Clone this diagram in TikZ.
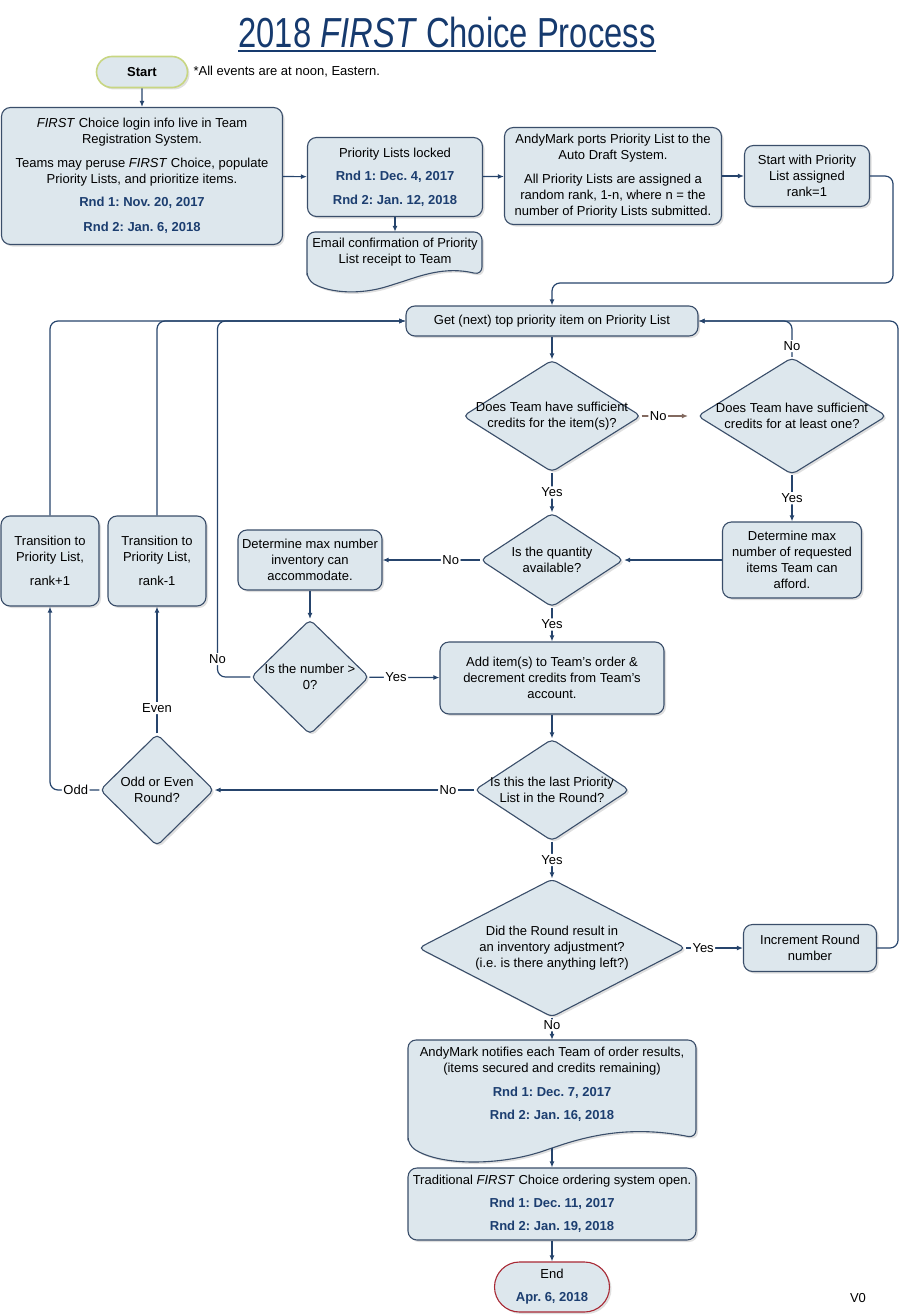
\documentclass[tikz,border=0pt]{standalone}
\usepackage{fontspec}
\setmainfont{Liberation Sans}
\usepackage{xcolor}
\usepackage{graphicx}
\usepackage{tikz}
\usetikzlibrary{shapes.geometric,shapes.misc,arrows.meta,shadows}

\definecolor{boxfill}{RGB}{221,231,237}
\definecolor{boxline}{RGB}{58,78,106}
\definecolor{flowline}{RGB}{38,68,108}
\definecolor{dateblue}{RGB}{28,62,112}
\definecolor{titleblue}{RGB}{22,58,110}
\definecolor{startline}{RGB}{200,214,130}
\definecolor{endline}{RGB}{168,40,52}
\definecolor{noline}{RGB}{130,105,95}

\newcommand{\rnd}[1]{\textcolor{dateblue}{\bfseries #1}}
\newcommand{\first}{\textit{FIRST}}
\frenchspacing

\begin{document}
\begin{tikzpicture}[x=1pt, y=-1pt,
    font=\fontsize{13}{16}\selectfont,
    shade/.style={drop shadow={shadow xshift=2pt, shadow yshift=-2pt, opacity=0.25}},
    box/.style={draw=boxline, fill=boxfill, line width=1.1pt, rounded corners=9pt, align=center, inner sep=2pt, shade},
    docshape/.style={draw=boxline, fill=boxfill, line width=1.1pt, rounded corners=8pt, shade},
    terminal/.style={rounded rectangle, fill=boxfill, line width=1.1pt, align=center, inner sep=2pt, shade},
    decision/.style={diamond, draw=boxline, fill=boxfill, line width=1.1pt, rounded corners=5pt, inner sep=0pt, shade},
    dectext/.style={align=center},
    flow/.style={draw=flowline, line width=1.2pt, rounded corners=8pt, -{Latex[length=6pt,width=5pt]}},
    lbl/.style={fill=white, inner sep=1.5pt}]

    \useasboundingbox (0,0) rectangle (901,1316);

    % title
    \node[font=\fontsize{42}{42}\selectfont, text=titleblue, inner sep=0pt, anchor=base] (title) at (447,48)
        {\scalebox{0.78}[1]{2018 \textit{FIRST} Choice Process}};
    \draw[titleblue, line width=2.5pt] ([yshift=-3pt]title.base west) -- ([yshift=-3pt]title.base east);

    % top row
    \node[terminal, draw=startline, line width=1.6pt, minimum width=95pt, minimum height=31pt] (start) at (142,72) {\bfseries Start};
    \node[anchor=west] (note) at (190,72) {*All events are at noon, Eastern.};
    \node[box, minimum width=281pt, minimum height=137pt] (login) at (142,176)
        {\first{} Choice login info live in Team\\Registration System.\\[8pt]Teams may peruse \first{} Choice, populate\\Priority Lists, and prioritize items.\\[7pt]\rnd{Rnd 1: Nov. 20, 2017}\\[9pt]\rnd{Rnd 2: Jan. 6, 2018}};
    \node[box, minimum width=175pt, minimum height=79pt] (locked) at (395,177)
        {Priority Lists locked\\[7pt]\rnd{Rnd 1: Dec. 4, 2017}\\[8pt]\rnd{Rnd 2: Jan. 12, 2018}};
    \path[docshape] (307,280) -- (307,232) -- (482,232) -- (482,275) .. controls (445,266) and (420,276) .. (395,284) .. controls (360,295) and (330,293) .. (307,280) -- cycle;
    \node[align=center, minimum width=175pt, minimum height=40pt, inner sep=0pt] (email) at (395,252)
        {Email confirmation of Priority\\List receipt to Team};
    \node[box, minimum width=217pt, minimum height=97pt] (ports) at (613,176)
        {AndyMark ports Priority List to the\\Auto Draft System.\\[8pt]All Priority Lists are assigned a\\random rank, 1-n, where n = the\\number of Priority Lists submitted.};
    \node[box, minimum width=125pt, minimum height=61pt] (rank1) at (807,176)
        {Start with Priority\\List assigned\\rank=1};

    % main loop
    \node[box, minimum width=292pt, minimum height=30pt] (get) at (552,321)
        {Get (next) top priority item on Priority List};
    \node[decision, minimum width=178pt, minimum height=112pt,
        label={[dectext]center:Does Team have sufficient\\credits for the item(s)?}] (d1) at (552,416) {};
    \node[decision, minimum width=189pt, minimum height=117pt,
        label={[dectext]center:Does Team have sufficient\\credits for at least one?}] (d2) at (792,416) {};
    \node[decision, minimum width=143pt, minimum height=94pt,
        label={[dectext]center:Is the quantity\\available?}] (d3) at (552,560) {};
    \node[box, minimum width=139pt, minimum height=76pt] (afford) at (792,560)
        {Determine max\\number of requested\\items Team can\\afford.};
    \node[box, minimum width=144pt, minimum height=60pt] (inv) at (310,560)
        {Determine max number\\inventory can\\accommodate.};
    \node[decision, minimum width=118pt, minimum height=115pt,
        label={[dectext]center:Is the number >\\0?}] (d4) at (310,677) {};
    \node[box, minimum width=224pt, minimum height=72pt] (add) at (552,678)
        {Add item(s) to Team’s order \&\\decrement credits from Team’s\\account.};
    \node[box, minimum width=98pt, minimum height=90pt] (fwd1) at (50,561)
        {Transition to\\Priority List,\\[8pt]rank+1};
    \node[box, minimum width=98pt, minimum height=90pt] (back1) at (157,561)
        {Transition to\\Priority List,\\[8pt]rank-1};
    \node[decision, minimum width=155pt, minimum height=102pt,
        label={[dectext]center:Is this the last Priority\\List in the Round?}] (d5) at (552,790) {};
    \node[decision, minimum width=114pt, minimum height=112pt,
        label={[dectext]center:Odd or Even\\Round?}] (d6) at (157,790) {};
    \node[decision, minimum width=267pt, minimum height=138pt,
        label={[dectext]center:Did the Round result in\\an inventory adjustment?\\(i.e. is there anything left?)}] (d7) at (552,948) {};
    \node[box, minimum width=133pt, minimum height=47pt] (incr) at (810,948)
        {Increment Round\\number};

    % bottom
    \path[docshape] (408,1145) -- (408,1040) -- (696,1040) -- (696,1138) .. controls (640,1127) and (600,1132) .. (552,1148) .. controls (500,1166) and (440,1166) .. (408,1145) -- cycle;
    \node[align=center, minimum width=288pt, minimum height=88pt, inner sep=0pt] (notify) at (552,1084)
        {AndyMark notifies each Team of order results,\\(items secured and credits remaining)\\[8pt]\rnd{Rnd 1: Dec. 7, 2017}\\[7pt]\rnd{Rnd 2: Jan. 16, 2018}};
    \coordinate (notifytail) at (552,1148);
    \node[box, minimum width=288pt, minimum height=72pt] (trad) at (552,1204)
        {Traditional \first{} Choice ordering system open.\\[7pt]\rnd{Rnd 1: Dec. 11, 2017}\\[7pt]\rnd{Rnd 2: Jan. 19, 2018}};
    \node[terminal, draw=endline, minimum width=119pt, minimum height=50pt] (end) at (552,1287)
        {End\\[7pt]\rnd{Apr. 6, 2018}};
    \node (ver) at (858,1298) {V0};

    % connectors
    \draw[flow] (start) -- (login);
    \draw[flow] (login) -- (locked);
    \draw[flow] (locked) -- (email);
    \draw[flow] (locked) -- (ports);
    \draw[flow] (ports) -- (rank1);
    \draw[flow] (rank1.east) -- ++(23,0) -- ++(0,107) -| (get.north);
    \draw[flow] (get) -- (d1);
    \draw[flow, draw=noline, shorten >=9pt] (d1) -- node[lbl, pos=0.3] {No} (d2);
    \draw[flow] (d2.north) |- node[lbl, pos=0.15] {No} (get.east);
    \draw[flow] (d1) -- node[lbl] {Yes} (d3);
    \draw[flow] (d2) -- node[lbl] {Yes} (afford);
    \draw[flow] (afford) -- (d3);
    \draw[flow] (d3) -- node[lbl, pos=0.3] {No} (inv);
    \draw[flow] (inv) -- (d4);
    \draw[flow] (d4) -- node[lbl, pos=0.38] {Yes} (add);
    \draw[flow] (d4.west) -- ++(-33,0) |- node[lbl, pos=0.025] {No} (get.west);
    \draw[flow] (d3) -- node[lbl] {Yes} (add);
    \draw[flow] (add) -- (d5);
    \draw[flow] (d5) -- node[lbl, pos=0.1] {No} (d6);
    \draw[flow] (d6) -- node[lbl, pos=0.2] {Even} (back1);
    \draw[flow] (d6.west) -| node[lbl, pos=0.24] {Odd} (fwd1.south);
    \draw[flow] (fwd1.north) |- (get.west);
    \draw[flow] (back1.north) |- (get.west);
    \draw[flow] (d5) -- node[lbl] {Yes} (d7);
    \draw[flow] (d7) -- node[lbl, pos=0.3] {Yes} (incr);
    \draw[flow] (incr.east) -- ++(21,0) |- (get.east);
    \draw[flow] (d7) -- node[lbl, pos=0.35] {No} (notify);
    \draw[flow] (notifytail) -- (trad);
    \draw[flow] (trad) -- (end);
\end{tikzpicture}
\end{document}
